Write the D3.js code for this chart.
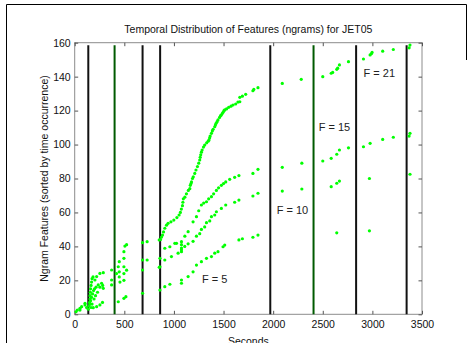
<!DOCTYPE html>
<html>
<head>
<meta charset="utf-8">
<script src="https://cdn.jsdelivr.net/npm/d3@7"></script>
<style>
  body { margin: 0; background: #fff; }
  text { font-family: Arial, "Liberation Sans", sans-serif; }
</style>
</head>
<body>
<div id="chart"></div>
<script>
const xTicks = [0, 500, 1000, 1500, 2000, 2500, 3000, 3500];
const yTicks = [0, 20, 40, 60, 80, 100, 120, 140, 160];

// segment boundaries (seconds), "g" = dark green, "k" = black
const splitTimes = [137, 402, 684, 861, 1971, 2407, 2836, 3345];
const splitKinds = ["k", "g", "k", "k", "k", "g", "k", "k"];

const fLabels = ["F = 5", "F = 10", "F = 15", "F = 21"];
const fLabelTime = [1411, 2195, 2618, 3070];
const fLabelIndex = [20.5, 61.5, 110.5, 142];

// [time, feature index]
const earlyPoints = [
    [13, 1.5], [26, 2.5], [53, 2.5], [53, 3.5], [70, 4.5], [104, 5.5], [104, 6.5], [120, 4],
    [137, 3], [145, 5], [150, 7], [154, 9], [154, 11], [158, 13], [160, 15], [165, 17],
    [170, 19], [175, 21], [185, 22], [204, 20.2], [221, 22.2], [237, 17.3], [254, 24.1],
    [271, 18.3], [288, 24.5], [288, 15.3], [154, 6], [160, 8], [170, 10], [180, 12],
    [190, 14], [200, 15], [215, 16], [254, 16], [282, 17], [187, 3.9], [221, 4.5],
    [254, 5.5], [280, 7], [165, 4], [175, 6], [195, 9], [210, 11], [230, 13],
    [372, 26.1], [372, 20.2], [372, 17.3], [422, 24], [439, 28], [449, 31], [449, 25],
    [449, 22], [456, 19], [496, 33], [496, 36.9], [506, 40.2], [523, 41], [496, 28],
    [496, 24], [496, 20], [523, 26], [516, 10.4], [496, 9.4], [439, 7.4],
    [684, 42.2], [730, 42.8], [684, 32], [730, 32], [684, 26.1], [684, 12.4],
    [852, 43.8], [852, 27.7]
];

const seriesA = [
    [865, 44], [875, 45.5], [885, 46.7], [895, 48.5], [908, 50.7], [925, 52.5], [941, 53.6],
    [970, 54.5], [999, 55.5], [1030, 57], [1052, 58.5], [1065, 60], [1075, 62], [1086, 64],
    [1090, 66], [1095, 68], [1110, 69], [1126, 71], [1145, 73], [1160, 74], [1165, 76],
    [1172, 77], [1177, 78], [1187, 80], [1195, 81], [1210, 83], [1222, 85], [1237, 87],
    [1250, 89], [1260, 90.9], [1265, 92.5], [1270, 94], [1277, 95.5], [1284, 96.8],
    [1298, 98.5], [1310, 99.7], [1330, 101], [1345, 102], [1354, 102.7], [1360, 104],
    [1365, 105], [1378, 106.6], [1387, 108], [1395, 109], [1411, 110.5], [1418, 111.5],
    [1425, 112.5], [1435, 113.5], [1444, 114.5], [1460, 116], [1470, 117], [1478, 117.4],
    [1487, 118.3], [1495, 119], [1505, 120], [1512, 120.4], [1530, 121], [1552, 121.9],
    [1575, 122.6], [1595, 123.3], [1622, 123.9], [1645, 125], [1664, 125.2], [1664, 127.8],
    [1690, 128.5], [1723, 129.6], [1796, 131.7], [1805, 132.5], [1847, 133.5],
    [2092, 136], [2283, 138.4], [2500, 140], [2585, 142], [2600, 142.5], [2641, 144.3],
    [2650, 145], [2668, 146.9], [2759, 148.8], [2910, 150.4], [2977, 152.8], [2990, 153.5],
    [2997, 154.3], [3104, 155], [3211, 156], [3370, 157], [3379, 158.6]
];

const seriesB = [
    [859, 33], [908, 38.9], [959, 39.8], [1009, 41.8], [1026, 41.8], [1076, 36.9], [1076, 39],
    [1076, 41], [1076, 42.8], [1110, 46], [1143, 48.7], [1193, 54.5], [1227, 57.5],
    [1250, 61], [1277, 64.4], [1300, 65.5], [1328, 66.3], [1350, 68], [1378, 69.3],
    [1400, 71], [1428, 73], [1450, 74.5], [1478, 76], [1500, 77], [1522, 78], [1562, 79.5],
    [1612, 80.7], [1655, 81.7], [1796, 83], [1847, 85.4],
    [2092, 86.6], [2289, 89], [2500, 90.3], [2585, 91.9], [2641, 94.3], [2668, 96.8],
    [2759, 98.1], [2910, 98.7], [2977, 100.7], [3104, 103], [3211, 104.3], [3370, 105],
    [3379, 106.6]
];

const seriesC = [
    [859, 28], [908, 32], [975, 34], [1042, 36], [1076, 38], [1109, 40], [1143, 41.5],
    [1193, 43], [1227, 46], [1260, 47.5], [1277, 50], [1310, 51.5], [1328, 54], [1361, 55],
    [1378, 57.5], [1411, 58.5], [1428, 60.4], [1478, 62.4], [1522, 64.4], [1612, 66],
    [1655, 67.3], [1796, 69.7], [1847, 71.3], [2092, 72.6], [2289, 73.8], [2585, 75.2],
    [2641, 77.2], [2668, 78.5], [2970, 80], [3379, 82.5]
];

const seriesD = [
    [859, 14.3], [908, 16.3], [959, 17.7], [1076, 18.3], [1076, 20.2], [1143, 22.2],
    [1193, 25], [1227, 29], [1277, 31], [1328, 33], [1378, 34], [1411, 36], [1444, 36.9],
    [1495, 39.8], [1512, 40.8], [1655, 43.8], [1690, 44.5], [1796, 45.4], [1847, 46.7],
    [2641, 48], [2970, 49.2]
];

const width = 469;
const height = 343;
const margin = { left: 74.7, right: 422, top: 42.7, bottom: 314.3 };

const svg = d3.select("#chart").append("svg")
    .attr("width", width)
    .attr("height", height);

// figure frame
svg.append("path")
    .attr("d", `M6.5,${height} V4.5 H466.5 V60`)
    .attr("fill", "none")
    .attr("stroke", "#000")
    .attr("stroke-width", 1);

const x = d3.scaleLinear().domain([0, 3500]).range([margin.left, margin.right]);
const y = d3.scaleLinear().domain([0, 160]).range([margin.bottom, margin.top]);

// axis box
svg.append("rect")
    .attr("x", margin.left)
    .attr("y", margin.top)
    .attr("width", margin.right - margin.left)
    .attr("height", margin.bottom - margin.top)
    .attr("fill", "none")
    .attr("stroke", "#8c8c8c");

function styleAxis(g) {
    g.select(".domain").remove();
    g.selectAll(".tick line").attr("stroke", "#555");
    g.selectAll(".tick text").attr("fill", "#111").style("font-size", "10.5px");
}

svg.append("g")
    .attr("transform", `translate(0,${margin.bottom})`)
    .call(d3.axisBottom(x).tickValues(xTicks).tickFormat(d3.format("d"))
        .tickSizeInner(-3.5).tickSizeOuter(0).tickPadding(6))
    .call(styleAxis);

svg.append("g")
    .attr("transform", `translate(0,${margin.top})`)
    .call(d3.axisTop(x).tickValues(xTicks).tickSizeInner(-3.5).tickSizeOuter(0).tickFormat(""))
    .call(styleAxis);

svg.append("g")
    .attr("transform", `translate(${margin.left},0)`)
    .call(d3.axisLeft(y).tickValues(yTicks).tickSizeInner(-3.5).tickSizeOuter(0).tickPadding(4))
    .call(styleAxis);

svg.append("g")
    .attr("transform", `translate(${margin.right},0)`)
    .call(d3.axisRight(y).tickValues(yTicks).tickSizeInner(-3.5).tickSizeOuter(0).tickFormat(""))
    .call(styleAxis);

// segment boundary lines
svg.append("g").selectAll("line")
    .data(splitTimes)
    .enter()
    .append("line")
    .attr("x1", d => x(d))
    .attr("x2", d => x(d))
    .attr("y1", y(0))
    .attr("y2", y(158.5))
    .attr("stroke", (d, i) => splitKinds[i] === "g" ? "#005a00" : "#111")
    .attr("stroke-width", 2);

const allPoints = earlyPoints.concat(seriesA, seriesB, seriesC, seriesD);

svg.append("g").selectAll("circle")
    .data(allPoints)
    .enter()
    .append("circle")
    .attr("cx", d => x(d[0]))
    .attr("cy", d => y(d[1]))
    .attr("r", 1.6)
    .attr("fill", "#00ff00");

svg.append("g").selectAll("text")
    .data(fLabels)
    .enter()
    .append("text")
    .attr("x", (d, i) => x(fLabelTime[i]))
    .attr("y", (d, i) => y(fLabelIndex[i]))
    .attr("dy", "0.35em")
    .attr("text-anchor", "middle")
    .attr("fill", "#222")
    .style("font-size", "11px")
    .text(d => d);

svg.append("text")
    .attr("x", (margin.left + margin.right) / 2)
    .attr("y", 33)
    .attr("text-anchor", "middle")
    .attr("fill", "#111")
    .style("font-size", "10.5px")
    .text("Temporal Distribution of Features (ngrams) for JET05");

svg.append("text")
    .attr("transform", `translate(48,${(margin.top + margin.bottom) / 2}) rotate(-90)`)
    .attr("text-anchor", "middle")
    .attr("fill", "#111")
    .style("font-size", "10.5px")
    .text("Ngram Features (sorted by time occurrence)");

svg.append("text")
    .attr("x", (margin.left + margin.right) / 2)
    .attr("y", 345)
    .attr("text-anchor", "middle")
    .attr("fill", "#111")
    .style("font-size", "10.5px")
    .text("Seconds");
</script>
</body>
</html>
